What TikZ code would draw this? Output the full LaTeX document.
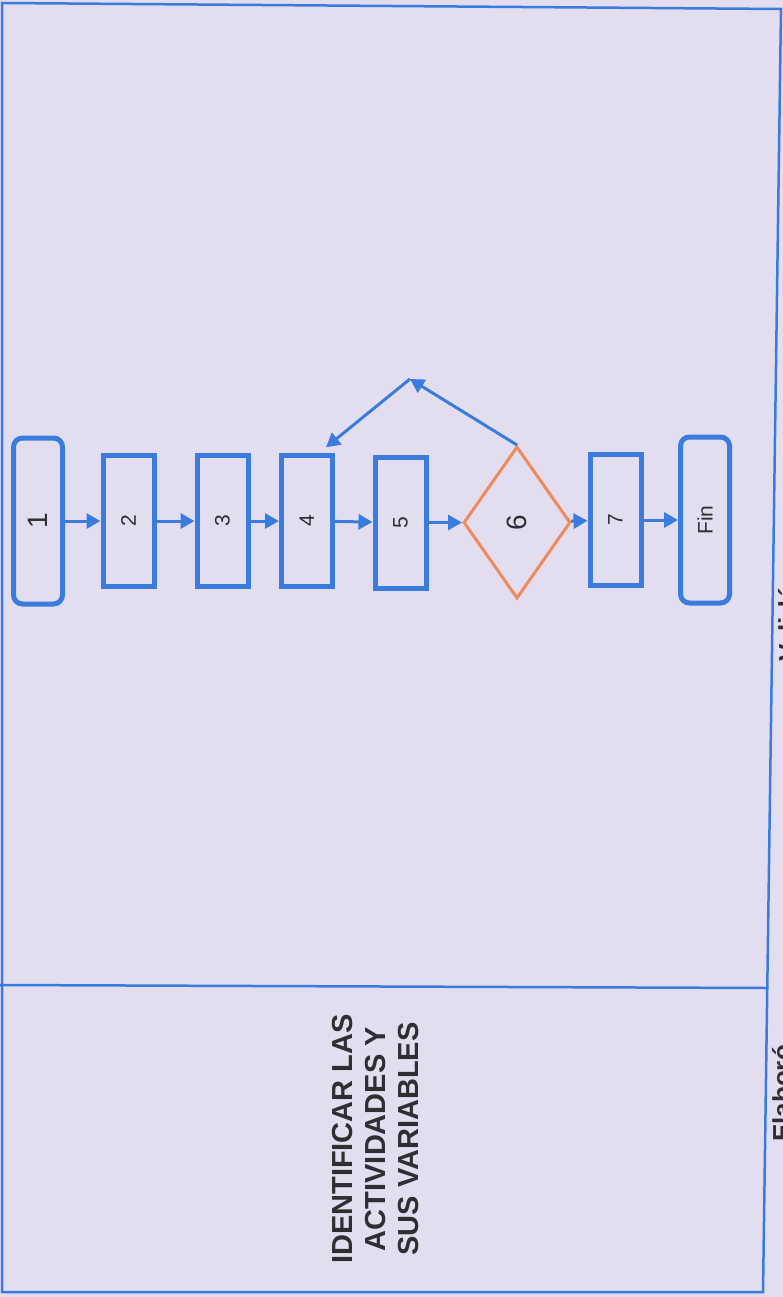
\documentclass[tikz,border=0pt]{standalone}
\usepackage{fontspec}
\usepackage{graphicx}
\setmainfont{Liberation Sans}
\usetikzlibrary{shapes.geometric,arrows.meta,calc}
\definecolor{bg}{HTML}{E2DEF0}
\definecolor{fblue}{HTML}{3A7BDE}
\definecolor{forange}{HTML}{F08A5C}
\definecolor{txt}{HTML}{2E2E33}
\tikzset{
  frame/.style={draw=fblue, line width=2.5pt},
  rbox/.style={draw=fblue, line width=5pt, rounded corners=9pt, minimum width=49pt, minimum height=166pt, inner sep=0pt, font=\fontsize{28}{30}\selectfont, text=txt},
  sbox/.style={draw=fblue, line width=5pt, minimum width=51pt, minimum height=131pt, inner sep=0pt, font=\fontsize{21}{24}\selectfont, text=txt},
  dbox/.style={diamond, draw=forange, line width=3pt, minimum width=107pt, minimum height=152pt, inner sep=0pt, font=\fontsize{28}{30}\selectfont, text=txt},
  arr/.style={draw=fblue, line width=3pt, -{Triangle[length=14pt,width=15pt]}},
  title/.style={rotate=90, align=center, text=txt, font=\fontsize{29}{33}\selectfont\bfseries},
  side/.style={rotate=90, anchor=base west, text=txt, font=\fontsize{26}{30}\selectfont\bfseries, inner sep=0pt}
}
\begin{document}
\begin{tikzpicture}[x=1pt,y=-1pt]
\useasboundingbox (0,0) rectangle (783,1297);
\fill[bg] (0,0) rectangle (783,1297);
\begin{scope}
\clip (0,0) rectangle (783,1297);
% frame
\draw[frame] (2,3) -- (781,9) -- (763,1292) -- (2,1292) -- cycle;
\draw[frame] (0,985) -- (767,988);
% title
\node[title] (tit) at (376,1139) {IDENTIFICAR LAS\\ACTIVIDADES Y\\SUS VARIABLES};
% side labels (cut by page edge, as in the scan)
\node[side] (elab) at (791,1142) {Elaboró};
\node[side] (valid) at (797,662) {Validó};
% flow nodes
\node[rbox] (n1) at (38,521) {\rotatebox{90}{1}};
\node[sbox] (n2) at (128.5,521) {\rotatebox{90}{2}};
\node[sbox] (n3) at (222.5,521) {\rotatebox{90}{3}};
\node[sbox] (n4) at (307,521) {\rotatebox{90}{4}};
\node[sbox] (n5) at (400.5,522.5) {\rotatebox{90}{5}};
\node[dbox] (n6) at (517,522.5) {\rotatebox{90}{6}};
\node[sbox] (n7) at (615.5,520) {\rotatebox{90}{7}};
\node[rbox, font=\fontsize{21}{24}\selectfont] (fin) at (705,520) {\rotatebox{90}{Fin}};
\coordinate (apex) at (410,379);
% connectors
\draw[arr] (n1) -- (n2);
\draw[arr] (n2) -- (n3);
\draw[arr] (n3) -- (n4);
\draw[arr] (n4) -- (n5);
\draw[arr] (n5) -- (n6);
\draw[arr] (n6) -- (n7);
\draw[arr] (n7) -- (fin);
\draw[arr] (n6.north) -- (apex);
\draw[arr, shorten >=9pt] (apex) -- (n4.80);
\end{scope}
\end{tikzpicture}
\end{document}
